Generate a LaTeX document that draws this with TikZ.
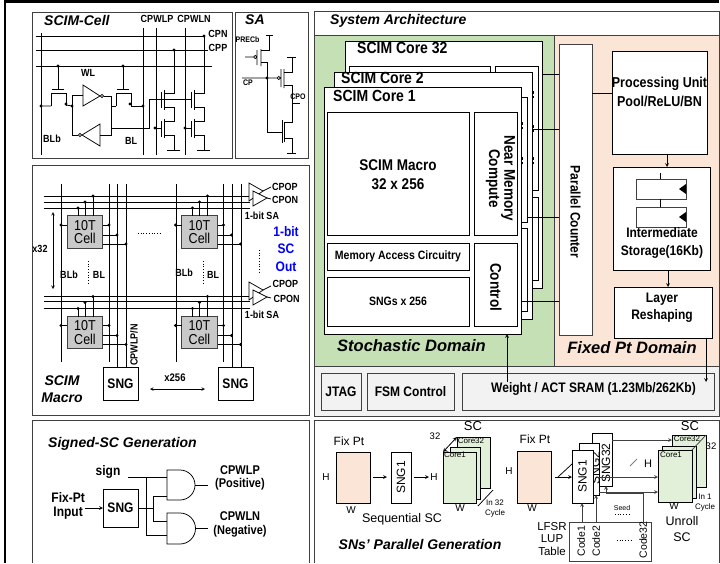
\documentclass[tikz,border=0pt]{standalone}
\usepackage{fontspec}
\setmainfont{Liberation Sans}
\newfontfamily\narrowFont{Liberation Sans}[FakeStretch=0.87, Scale=1.15]
\newcommand{\fs}[1]{\fontsize{#1}{\dimexpr#1pt*6/5\relax}\selectfont}
\definecolor{domainGreen}{HTML}{C5E0B4}
\definecolor{domainPeach}{HTML}{FBE5D6}
\definecolor{lightGreen}{HTML}{E2F0D9}
\definecolor{bandGrey}{HTML}{F2F2F2}
\definecolor{cellGrey}{HTML}{C9C9C9}
\definecolor{frameGrey}{HTML}{404040}
\tikzset{
	boldText/.style={inner sep=0pt, align=center, font=\narrowFont\bfseries\fs{#1}},
	italicText/.style={inner sep=0pt, align=center, font=\bfseries\itshape\fs{#1}},
	plainText/.style={inner sep=0pt, align=center, font=\fs{#1}}
}
\begin{document}
\begin{tikzpicture}[x=1pt, y=-1pt]
	% Node styles
	\tikzstyle{panel} = [rectangle, draw=frameGrey, line width=0.9pt, inner sep=0pt, outer sep=0pt]
	\tikzstyle{block} = [rectangle, draw=black, fill=white, line width=0.8pt, inner sep=0pt, outer sep=0pt]
	\tikzstyle{cell} = [rectangle, draw=frameGrey, fill=cellGrey, line width=0.8pt, inner sep=0pt, outer sep=0pt, align=center, font=\narrowFont\fs{12.5}]
	\tikzstyle{wire} = [line width=0.75pt]
	\tikzstyle{arrow} = [line width=0.7pt,->,>=stealth]
	\tikzstyle{twoway} = [line width=0.6pt,<->,>=stealth]
	\useasboundingbox (0,0) rectangle (720,563);

	% Outer border
	\draw[line width=2.2pt] (5,563) -- (5,1.5) -- (719,1.5);

	% Left panels
	\node[panel, minimum width=200pt, minimum height=146pt] (scimCell) at (132,85) {};
	\node[panel, minimum width=73pt, minimum height=146pt] (saPanel) at (271.5,85) {};
	\node[panel, minimum width=277pt, minimum height=250pt] (macroPanel) at (170.5,290) {};
	\draw[draw=frameGrey, line width=0.9pt] (32,563) -- (32,420) -- (309,420) -- (309,563);

	% SCIM cell labels
	\node[italicText=14, anchor=west] (cellTitle) at (44,20) {SCIM-Cell};
	\node[boldText=9] (labelCpwlp) at (157,19) {CPWLP};
	\node[boldText=9] (labelCpwln) at (194,19) {CPWLN};
	\node[boldText=9] (labelCpn) at (218,34) {CPN};
	\node[boldText=9] (labelCpp) at (218,48) {CPP};
	\node[boldText=9] (labelWl) at (88,73) {WL};
	\node[boldText=9] (labelBlb) at (52,139) {BLb};
	\node[boldText=9] (labelBl) at (131,141) {BL};

	% SCIM cell rails
	\draw[wire] (36,36) -- (204,36) (36,50) -- (208,50) (36,66) -- (212,66);
	\draw[wire] (41,33) -- (41,155) (143,28) -- (143,155) (156,28) -- (156,155) (185,28) -- (185,155);

	% SCIM cell access transistors
	\foreach \tx in {58,123} {
		\draw[wire] (\tx,66) -- (\tx,89) (\tx-6,89) -- (\tx+6,89);
		\draw[wire] (\tx-7,106) -- (\tx-7,93) -- (\tx+8,93) -- (\tx+8,106);
	}
	\draw[wire] (41,106) -- (51,106) (66,105) -- (72,106);
	\draw[wire] (111,106) -- (116,106) (131,106) -- (143,106);

	% SCIM cell latch
	\draw[wire] (83,85) -- (83,106) -- (100,96) -- cycle;
	\draw[wire] (102,96) circle (1.6pt);
	\draw[wire] (100,124) -- (100,146) -- (82,135) -- cycle;
	\draw[wire] (80,135) circle (1.6pt);
	\draw[wire] (83,95) -- (72,95) -- (72,135) -- (78.4,135);
	\draw[wire] (103.6,96) -- (111,96) -- (111,135) -- (100,135);
	\draw[wire] (111,128) -- (149,128) -- (149,99) -- (191,99);

	% SCIM cell compute transistors
	\foreach \ax/\lx/\tx in {161/174/50, 191/204/36} {
		\draw[wire] (\ax,92) -- (\ax,108) (\ax+3,90) -- (\ax+3,110);
		\draw[wire] (\ax,121) -- (\ax,137) (\ax+3,119) -- (\ax+3,138);
		\draw[wire] (\lx,\tx) -- (\lx,93) -- (\ax+3,93);
		\draw[wire] (\ax+3,107) -- (\lx,107) -- (\lx,121) -- (\ax+3,121);
		\draw[wire] (\ax+3,135) -- (\lx,135) -- (\lx,150) (\lx-7,150) -- (\lx+6,150);
	}
	\draw[wire] (155,128) -- (161,128) (185,128) -- (191,128);
	\foreach \px/\py in {58/66, 123/66, 174/50, 204/36, 41/106, 143/106, 155/128, 185/128, 66/104, 72/106, 130/104}
		\fill (\px,\py) circle (1.7pt);

	% SA
	\node[italicText=14, anchor=west] (saTitle) at (245,20) {SA};
	\node[boldText=7, anchor=west] (labelPrecb) at (235.5,40) {PRECb};
	\node[boldText=7] (labelCp) at (248,83) {CP};
	\node[boldText=7] (labelCpo) at (298,97) {CPO};
	\draw[wire] (266,35) -- (273,35) (269,35) -- (269,50) -- (261,50);
	\draw[wire] (245,57) -- (253.5,57) (255.2,57) circle (1.6pt) (257,50) -- (257,65) (261,49) -- (261,66);
	\draw[wire] (261,62) -- (267,62) -- (267,132) -- (282,132);
	\draw[wire] (242,78) -- (277,78) (278.7,78) circle (1.6pt) (281,69) -- (281,87) (284,69) -- (284,88);
	\draw[wire] (287,57) -- (296,57) (292,57) -- (292,72) -- (284,72);
	\draw[wire] (284,85) -- (292,85) -- (292,122) -- (284,122);
	\draw[wire] (282,120) -- (282,143) (284.5,122) -- (284.5,142);
	\draw[wire] (284,138) -- (292,138) -- (292,153) (287,153) -- (296,153);
	\draw[wire] (292,103) -- (300,103);
	\fill (267,78) circle (1.7pt);

	% Macro array lines
	\foreach \ly in {196,202,208,296,301,308}
		\draw[wire] (44,\ly) -- (250,\ly);
	\foreach \lx in {61,109,176,223}
		\draw[wire] (\lx,184) -- (\lx,362);
	\foreach \lx in {117,126,232,241}
		\draw[wire] (\lx,184) -- (\lx,367);

	% Macro cells
	\foreach \cellX/\cellY/\cellName in {85/232/cellA, 199.5/232/cellB, 85/332.5/cellC, 199.5/332.5/cellD} {
		\node[cell, minimum width=35.5pt, minimum height=32.5pt] (\cellName) at (\cellX,\cellY) {10T\\[-1.5pt]Cell};
		\draw[wire] (\cellX-7,\cellY-24) -- (\cellX-7,\cellY-16);
		\fill (\cellX-7,\cellY-24) circle (1.7pt);
		\draw[wire] (\cellX,\cellY-30) -- (\cellX,\cellY-16);
		\fill (\cellX,\cellY-30) circle (1.7pt);
		\draw[wire] (\cellX+8,\cellY-36) -- (\cellX+8,\cellY-16);
		\fill (\cellX+8,\cellY-36) circle (1.7pt);
		\draw[wire] (\cellX-24,\cellY-7) -- (\cellX-18,\cellY-7) (\cellX+18,\cellY-7) -- (\cellX+24,\cellY-7);
		\draw[wire] (\cellX+18,\cellY+3) -- (\cellX+32,\cellY+3) (\cellX+18,\cellY+12) -- (\cellX+41,\cellY+12);
		\fill (\cellX-24,\cellY-7) circle (1.7pt);
		\fill (\cellX+24,\cellY-7) circle (1.7pt);
		\fill (\cellX+32,\cellY+3) circle (1.7pt);
		\fill (\cellX+41,\cellY+12) circle (1.7pt);
	}

	% Macro labels
	\node[boldText=9] (labelXthirtytwo) at (40,249) {x32};
	\draw[twoway] (53,212) -- (53,289);
	\node[boldText=9] (labelBlbA) at (69,275) {BLb};
	\node[boldText=9] (labelBlA) at (99,275) {BL};
	\node[boldText=9] (labelBlbB) at (184,273) {BLb};
	\node[boldText=9] (labelBlB) at (213,275) {BL};
	\draw[dotted, line width=0.7pt] (88,261) -- (88,284);
	\draw[dotted, line width=0.7pt] (203,261) -- (203,284);
	\draw[dotted, line width=0.7pt] (138,233) -- (160,233);
	\draw[dotted, line width=0.7pt] (259,250) -- (259,273);
	\node[boldText=9, rotate=90] (labelCpwlpn) at (134,345) {CPWLP/N};

	% Macro SNG
	\node[block, minimum width=35pt, minimum height=33pt] (sngLeft) at (120.5,383.5) {};
	\node[boldText=12] (sngLeftText) at (sngLeft) {SNG};
	\node[block, minimum width=35pt, minimum height=33pt] (sngRight) at (235.5,383.5) {};
	\node[boldText=12] (sngRightText) at (sngRight) {SNG};
	\node[boldText=9.5] (labelXtwofivesix) at (175,378) {x256};
	\draw[twoway] (150,389) -- (205,389);
	\node[italicText=14] (macroTitle) at (62,389) {SCIM\\[0.5pt]Macro};

	% Macro sense amplifiers
	\foreach \ay in {0,99} {
		\draw[wire, fill=white] (249,183+\ay) -- (249,201+\ay) -- (263,191+\ay) -- cycle;
		\draw[wire, fill=white] (253,191+\ay) -- (253,206+\ay) -- (267,198+\ay) -- cycle;
		\draw[wire] (263,191+\ay) -- (271,187+\ay) (267,198+\ay) -- (271,199+\ay);
	}
	\node[boldText=9, anchor=west] (labelCpopA) at (272,187) {CPOP};
	\node[boldText=9, anchor=west] (labelCponA) at (272,200) {CPON};
	\node[boldText=9] (labelSaA) at (262,216) {1-bit SA};
	\node[boldText=9, anchor=west] (labelCpopB) at (272.5,284) {CPOP};
	\node[boldText=9, anchor=west] (labelCponB) at (273.5,299) {CPON};
	\node[boldText=9] (labelSaB) at (262,315) {1-bit SA};
	\node[boldText=12, text=blue] (labelOut) at (286,249) {1-bit\\[3pt]SC\\[3pt]Out};

	% Signed generation
	\node[italicText=14, anchor=west] (signedTitle) at (48,444) {Signed-SC Generation};
	\node[boldText=12] (labelSign) at (108,472) {sign};
	\node[boldText=12, anchor=east] (labelFixInput) at (85,506) {Fix-Pt\\Input};
	\node[block, minimum width=35pt, minimum height=38pt] (sngSigned) at (120.5,508) {};
	\node[boldText=12] (sngSignedText) at (sngSigned) {SNG};
	\draw[arrow] (labelFixInput.east |- sngSigned.west) -- (sngSigned.west);
	\coordinate (signStart) at (128,477);
	\coordinate (gateTopIn) at (167,477);
	\coordinate (gateBotIn) at (167,535);
	\draw[wire] (167,470) -- (180,470) arc (90:-90:15pt) -- (167,500) -- cycle;
	\draw[wire] (167,513) -- (180,513) arc (90:-90:15.5pt) -- (167,544) -- cycle;
	\draw[wire] (signStart) -- (gateTopIn);
	\draw[wire] (146,477) -- (146,535) -- (gateBotIn);
	\draw[wire] (sngSigned.east) -- (153,508);
	\draw[wire] (167,496) -- (153,496) -- (153,521) -- (167,521);
	\draw[wire] (195,485) -- (208,485) (195.5,528) -- (208,528);
	\node[boldText=11] (labelPositive) at (240,478) {CPWLP\\(Positive)};
	\node[boldText=11] (labelNegative) at (240,524.5) {CPWLN\\(Negative)};

	% System architecture domains
	\node[panel, fill=white, minimum width=405pt, minimum height=24pt] (archTitle) at (516.5,23) {};
	\node[italicText=14, anchor=west] (archTitleText) at (330,20.5) {System Architecture};
	\node[panel, fill=domainGreen, minimum width=240pt, minimum height=331pt] (stochasticDomain) at (434,200.5) {};
	\node[panel, fill=domainPeach, minimum width=165pt, minimum height=331pt] (fixedDomain) at (636.5,200.5) {};
	\node[panel, fill=bandGrey, minimum width=405pt, minimum height=50pt] (bottomBand) at (516.5,391) {};

	% Core stack
	\node[block, minimum width=197pt, minimum height=247pt] (coreThirtyTwo) at (443.5,164.5) {};
	\node[boldText=14, anchor=west] (coreThirtyTwoText) at (357,48) {SCIM Core 32};
	\node[block, minimum width=141pt, minimum height=30pt] (coreMacroBack) at (419.5,81) {};
	\node[block, minimum width=43pt, minimum height=124pt] (nearBack) at (516.5,128) {};
	\node[block, minimum width=43pt, minimum height=83pt] (controlBack) at (516.5,238.5) {};
	\node[block, minimum width=198pt, minimum height=247pt] (coreTwo) at (433,195.5) {};
	\node[boldText=14, anchor=west] (coreTwoText) at (341,78) {SCIM Core 2};
	\node[block, minimum width=43pt, minimum height=125pt] (nearTwo) at (505.5,159.5) {};
	\node[block, minimum width=43pt, minimum height=83pt] (controlTwo) at (505.5,269.5) {};
	\node[block, minimum width=197pt, minimum height=247pt] (coreOne) at (422.5,210.5) {};
	\node[boldText=14, anchor=west] (coreOneText) at (333,96) {SCIM Core 1};
	\node[block, minimum width=142pt, minimum height=123pt] (scimMacro) at (398,173.5) {};
	\node[boldText=13.5] (scimMacroText) at (398,174.5) {SCIM Macro\\[3pt]32 x 256};
	\node[block, minimum width=43pt, minimum height=123pt] (nearMemory) at (495.5,173.5) {};
	\node[boldText=13.5, rotate=-90] (nearMemoryText) at (500.5,178.5) {Near Memory\\[-1pt]Compute};
	\node[block, minimum width=142pt, minimum height=27pt] (memoryAccess) at (398,256.5) {};
	\node[boldText=10.5] (memoryAccessText) at (memoryAccess) {Memory Access Circuitry};
	\node[block, minimum width=142pt, minimum height=49pt] (sngBank) at (398,301.5) {};
	\node[boldText=10.5] (sngBankText) at (sngBank) {SNGs x 256};
	\node[block, minimum width=43pt, minimum height=83pt] (control) at (495.5,284.5) {};
	\node[boldText=13.5, rotate=-90] (controlText) at (496,287) {Control};
	\node[italicText=16.5, anchor=west] (stochasticText) at (337,346) {Stochastic Domain};

	% Fixed point blocks
	\node[block, draw=frameGrey, minimum width=33pt, minimum height=291pt] (parallelCounter) at (575.5,189.5) {};
	\node[boldText=12, rotate=-90] (parallelCounterText) at (575.5,212) {Parallel Counter};
	\node[block, minimum width=95pt, minimum height=103pt] (processingUnit) at (659.5,102.5) {};
	\node[block, minimum width=97pt, minimum height=103pt] (storage) at (661.5,218.5) {};
	\node[block, draw=frameGrey, minimum width=50pt, minimum height=20pt] (registerTop) at (661,189) {};
	\node[block, draw=frameGrey, minimum width=50pt, minimum height=20pt] (registerBottom) at (661,217) {};
	\fill (686,184) -- (686,194) -- (679,189) -- cycle;
	\fill (686,212) -- (686,222) -- (679,217) -- cycle;
	\draw[wire] (660,173) -- (registerTop.north -| 660,0);
	\draw[wire] (660,199) -- (660,207);
	\node[boldText=12] (storageText) at (662,243) {Intermediate\\[4pt]Storage(16Kb)};
	\node[block, minimum width=98pt, minimum height=51pt] (layerReshaping) at (663,312.5) {};
	\node[boldText=12] (layerReshapingText) at (662,308) {Layer\\[2.5pt]Reshaping};
	\node[italicText=16.5] (fixedText) at (632,348) {Fixed Pt Domain};

	% Bottom band
	\node[block, draw=frameGrey, fill=bandGrey, minimum width=40pt, minimum height=37pt] (jtag) at (341,391.5) {};
	\node[boldText=12] (jtagText) at (jtag) {JTAG};
	\node[block, draw=frameGrey, fill=bandGrey, minimum width=87pt, minimum height=37pt] (fsmControl) at (410.5,391.5) {};
	\node[boldText=12] (fsmControlText) at (fsmControl) {FSM Control};
	\node[block, draw=frameGrey, fill=bandGrey, minimum width=252pt, minimum height=37pt] (weightSram) at (588,391.5) {};
	\node[boldText=12] (weightSramText) at (593.5,389) {Weight / ACT SRAM (1.23Mb/262Kb)};

	% Domain arrows
	\foreach \lineY/\coreName in {74/coreThirtyTwo, 129/coreTwo, 217/nearTwo, 301/coreOne}
		\draw[wire] (\coreName.east |- 0,\lineY) -- (parallelCounter.west |- 0,\lineY);
	\draw[wire] (parallelCounter.east |- 0,93) -- (processingUnit.west |- 0,93);
	\node[boldText=12.5] (processingUnitText) at (659.5,92) {Processing Unit\\[3.5pt]Pool/ReLU/BN};
	\draw[arrow] (processingUnit.south -| 667,0) -- (storage.north -| 667,0);
	\draw[arrow] (storage.south -| 668,0) -- (layerReshaping.north -| 668,0);
	\draw[arrow] (layerReshaping.south -| 706,0) -- (706,382);
	\draw[arrow] (507,382) -- (coreOne.south -| 507,0);
	\foreach \dashX/\dashY in {522/122, 522/157, 533/91, 533/125, 533/157}
		\draw[line width=1pt, densely dashed] (\dashX,\dashY) -- (\dashX,\dashY+7);

	% Parallel generation panel
	\draw[draw=frameGrey, line width=0.9pt] (314,563) -- (314,420) -- (719,420) -- (719,563);
	\node[italicText=14] (parallelTitle) at (420,544) {SNs' Parallel Generation};

	% Sequential SC
	\node[plainText=12] (fixPtSeqText) at (349,441) {Fix Pt};
	\node[block, fill=domainPeach, minimum width=34pt, minimum height=51pt] (fixPtSeq) at (353,477.5) {};
	\node[plainText=10] (labelHSeqA) at (326,477) {H};
	\node[plainText=10] (labelWSeqA) at (351,510) {W};
	\node[block, minimum width=20pt, minimum height=51pt] (sngSeq) at (401,477.5) {\rotatebox{90}{\fs{12}SNG1}};
	\draw[arrow] (373,477) -- (387,477);
	\draw[arrow] (414,477) -- (429,477);
	\node[plainText=10] (labelHSeqB) at (434,477) {H};
	\node[block, fill=lightGreen, minimum width=33pt, minimum height=51pt] (seqBack) at (473.5,462.5) {};
	\node[block, fill=lightGreen, minimum width=30pt, minimum height=52pt] (seqMiddle) at (465,473) {};
	\node[block, fill=lightGreen, minimum width=33pt, minimum height=51pt] (seqFront) at (459.5,477.5) {};
	\node[plainText=8] (seqCoreOne) at (455,455) {Core1};
	\node[plainText=8] (seqCoreLast) at (471,441) {Core32};
	\node[plainText=13] (seqScText) at (473,426) {SC};
	\node[plainText=9.5] (seqThirtyTwo) at (435,436) {32};
	\draw[twoway, line width=0.8pt] (seqFront.north west) -- (seqBack.north west);
	\node[plainText=10] (labelWSeqB) at (460,508) {W};
	\draw[wire] (478,506) -- (493,490);
	\node[plainText=8] (seqCycle) at (495,508.5) {In 32\\Cycle};
	\node[plainText=12.5] (seqName) at (402,519) {Sequential SC};

	% Unroll SC
	\node[plainText=10] (labelHUnrollA) at (509,471) {H};
	\node[plainText=12] (fixPtUnrollText) at (535,439) {Fix Pt};
	\node[block, fill=domainPeach, minimum width=34pt, minimum height=52pt] (fixPtUnroll) at (534,477) {};
	\node[plainText=10] (labelWUnrollA) at (532,508) {W};
	\node[block, minimum width=20pt, minimum height=53pt] (sngLast) at (602,459.5) {};
	\node[block, minimum width=20pt, minimum height=52pt] (sngSecond) at (589,469) {};
	\node[plainText=12, rotate=90] (sngSecondText) at (595.5,468) {SNG2};
	\node[block, minimum width=21pt, minimum height=53pt] (sngFirst) at (582.5,476.5) {\rotatebox{90}{\fs{12}SNG1}};
	\node[plainText=12, rotate=90] (sngLastText) at (606,463) {SNG32};
	\draw[arrow] (555,477) -- (sngFirst.west |- 0,477);
	\draw[wire] (558,477) -- (572,464);

	\node[block, fill=lightGreen, minimum width=34pt, minimum height=52pt] (unrollBack) at (689,461) {};
	\node[block, fill=lightGreen, minimum width=34pt, minimum height=52pt] (unrollMiddle) at (679,472) {};
	\node[block, fill=lightGreen, minimum width=34pt, minimum height=52pt] (unrollFront) at (675,476) {};
	\draw[wire, draw=frameGrey] (unrollFront.north east) -- (unrollBack.north east);
	\node[plainText=8] (unrollCoreOne) at (671,455) {Core1};
	\node[plainText=8] (unrollCoreLast) at (687,439) {Core32};
	\node[plainText=13] (unrollScText) at (690,426) {SC};
	\node[plainText=9.5] (unrollThirtyTwo) at (711,446) {32};
	\draw[arrow, draw=frameGrey] (sngLast.east |- 0,440) -- (unrollBack.west |- 0,440);
	\draw[arrow, draw=frameGrey] (sngSecond.east |- 0,477) -- (unrollFront.west |- 0,477);
	\draw[arrow, draw=frameGrey] (sngSecond.east |- 0,492) -- (unrollFront.west |- 0,492);
	\node[plainText=11] (labelHUnrollB) at (648,464) {H};
	\draw[wire, draw=gray] (630,466) -- (637,459);
	\node[plainText=10] (labelWUnrollB) at (674,506) {W};
	\node[plainText=8] (unrollCycle) at (705,502.5) {In 1\\Cycle};
	\node[plainText=12.5] (unrollName) at (682,529) {Unroll\\[1.5pt]SC};

	% LFSR table
	\node[block, draw=frameGrey, minimum width=82pt, minimum height=39pt] (lfsrTable) at (610,541.5) {};
	\node[plainText=11.5] (lfsrText) at (552,539) {LFSR\\[-1.5pt]LUP\\[-1.5pt]Table};
	\node[plainText=10.5, rotate=90] (codeOne) at (581,541) {Code1};
	\node[plainText=10.5, rotate=90] (codeTwo) at (596,541) {Code2};
	\node[plainText=10.5, rotate=90] (codeLast) at (643,540) {Code32};
	\draw[dotted, line width=0.7pt] (617,540) -- (631,540);
	\node[plainText=7] (seedText) at (622,508) {Seed};
	\draw[dotted, line width=0.7pt] (615,514) -- (629,514);
	\draw[arrow, draw=frameGrey] (lfsrTable.north -| 582,0) -- (sngFirst.south -| 582,0);
	\draw[arrow, draw=frameGrey] (lfsrTable.north -| 596,0) -- (sngSecond.south -| 596,0);
	\draw[arrow, draw=frameGrey] (lfsrTable.north -| 643,0) -- (643,493) -- (606,493) -- (sngLast.south -| 606,0);
\end{tikzpicture}
\end{document}
